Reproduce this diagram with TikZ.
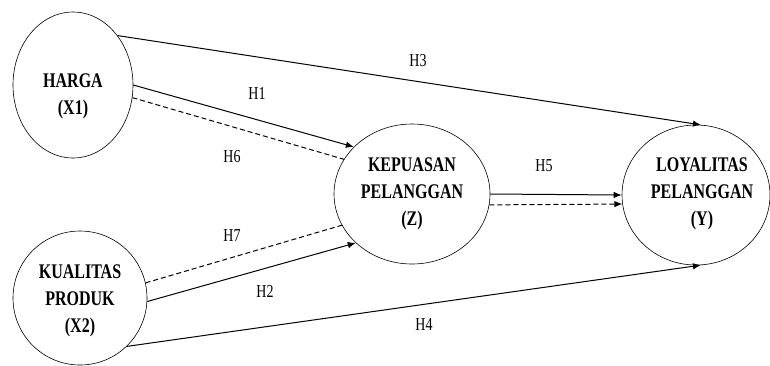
\documentclass[tikz,border=0pt]{standalone}
\usepackage{fontspec}
\setmainfont{Liberation Serif}
\usetikzlibrary{arrows.meta,shapes.geometric}
\newcommand{\tallname}[1]{\scalebox{1}[1.3]{\begin{tabular}{@{}c@{}}#1\end{tabular}}}
\newcommand{\talllab}[1]{\scalebox{1}[1.3]{#1}}
\tikzset{
  var/.style={draw, ellipse, line width=0.6pt, inner sep=0pt},
  vartext/.style={inner sep=0pt, font=\fontsize{16}{20.8}\selectfont\bfseries},
  hlab/.style={inner sep=0pt, font=\fontsize{14}{16}\selectfont},
  conn/.style={line width=1pt, -{Latex[length=8pt,width=6.5pt]}},
  dconn/.style={line width=1pt, dash pattern=on 5pt off 3pt},
}
\begin{document}
\begin{tikzpicture}[x=1pt,y=-1pt]
\useasboundingbox (0,0) rectangle (770,365);
% ellipses
\node[var, minimum width=120pt, minimum height=146pt] (x1) at (73,85) {};
\node[var, minimum width=134pt, minimum height=134pt] (x2) at (80,298) {};
\node[var, minimum width=156pt, minimum height=140pt] (z) at (412,194) {};
\node[var, minimum width=148pt, minimum height=140pt] (y) at (696,195) {};
% texts
\node[vartext] (x1t) at (73,96) {\tallname{HARGA\\(X1)}};
\node[vartext] (x2t) at (80,300) {\tallname{KUALITAS\\PRODUK\\(X2)}};
\node[vartext] (zt) at (412,193) {\tallname{KEPUASAN\\PELANGGAN\\(Z)}};
\node[vartext] (yt) at (702,193) {\tallname{LOYALITAS\\PELANGGAN\\(Y)}};
% connectors
\draw[conn] (x1.48.7) -- (y.86.7);
\draw[conn] (x1.0) -- (z.141.7);
\draw[dconn] (x1.-12.4) -- (z.153);
\draw[dconn] (x2.13) -- (z.204);
\draw[conn] (x2.-3.5) -- (z.221);
\draw[conn] (x2.-46) -- (y.-86.7);
\draw[conn] (z.0) -- (y.180);
\draw[conn, dash pattern=on 5pt off 3pt] (z.-8.5) -- (y.187.8);
% labels
\node[hlab] (h1) at (257,93) {\talllab{H1}};
\node[hlab] (h6) at (232,157) {\talllab{H6}};
\node[hlab] (h3) at (418,61) {\talllab{H3}};
\node[hlab] (h7) at (232,236) {\talllab{H7}};
\node[hlab] (h2) at (265,291) {\talllab{H2}};
\node[hlab] (h4) at (424,325) {\talllab{H4}};
\node[hlab] (h5) at (544,166) {\talllab{H5}};
\end{tikzpicture}
\end{document}
